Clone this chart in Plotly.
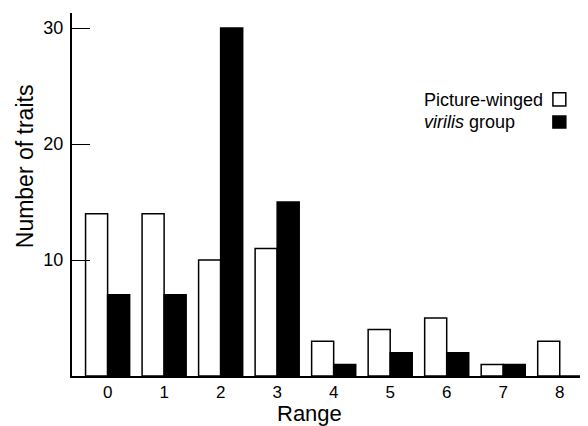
import plotly.graph_objects as go

ranges = ["0", "1", "2", "3", "4", "5", "6", "7", "8"]
picture_winged = [14, 14, 10, 11, 3, 4, 5, 1, 3]
virilis_group = [7, 7, 30, 15, 1, 2, 2, 1, 0]
y_ticks = [10, 20, 30]

FONT = "Liberation Sans, Arial, Helvetica, sans-serif"

fig = go.Figure()
fig.add_trace(go.Bar(x=list(range(len(ranges))), y=picture_winged, name="Picture-winged",
                     marker=dict(color="white", line=dict(color="black", width=1.5))))
fig.add_trace(go.Bar(x=list(range(len(ranges))), y=virilis_group, name="virilis group",
                     marker=dict(color="black", line=dict(color="black", width=1.5))))

# page body has an 8px default margin, so the figure is sized to fill the rest
fig.update_layout(
    width=580, height=418,
    margin=dict(l=64, r=0, t=5, b=50),
    paper_bgcolor="white", plot_bgcolor="white",
    barmode="group", bargap=0.22, bargroupgap=0,
    showlegend=False,
    font=dict(family=FONT, color="black", size=17),
)
fig.update_xaxes(
    range=[-0.63, 8.5], tickvals=list(range(len(ranges))), ticktext=ranges,
    showline=True, linecolor="black", linewidth=2, ticks="", showgrid=False,
    zeroline=False, tickfont=dict(size=17), automargin=False,
)
fig.update_yaxes(
    range=[0, 31.3], tickvals=y_ticks, ticktext=[str(v) for v in y_ticks],
    showline=True, linecolor="black", linewidth=2, ticks="inside", ticklen=18,
    tickwidth=1.2, tickcolor="black", showgrid=False, zeroline=False,
    tickfont=dict(size=18), automargin=False, ticklabelstandoff=3,
)

# axis titles (placed as in the reference, off-centre)
fig.add_annotation(x=0.461, y=-0.102, xref="paper", yref="paper", text="Range",
                   showarrow=False, xanchor="center", yanchor="middle", font=dict(size=22))
fig.add_annotation(x=-0.091, y=0.578, xref="paper", yref="paper", text="Number of traits",
                   textangle=-90, showarrow=False, xanchor="center", yanchor="middle",
                   font=dict(size=23))

# legend (text left-aligned, swatch at right)
fig.add_annotation(x=0.678, y=0.760, xref="paper", yref="paper", text="Picture-winged",
                   showarrow=False, xanchor="left", yanchor="middle", font=dict(size=18))
fig.add_annotation(x=0.678, y=0.700, xref="paper", yref="paper", text="<i>virilis</i> group",
                   showarrow=False, xanchor="left", yanchor="middle", font=dict(size=18))
fig.add_shape(type="rect", xref="paper", yref="paper", x0=0.932, x1=0.957, y0=0.744, y1=0.780,
              line=dict(color="black", width=1.5), fillcolor="white")
fig.add_shape(type="rect", xref="paper", yref="paper", x0=0.932, x1=0.957, y0=0.683, y1=0.716,
              line=dict(color="black", width=1.5), fillcolor="black")

fig.write_html("out.html")
